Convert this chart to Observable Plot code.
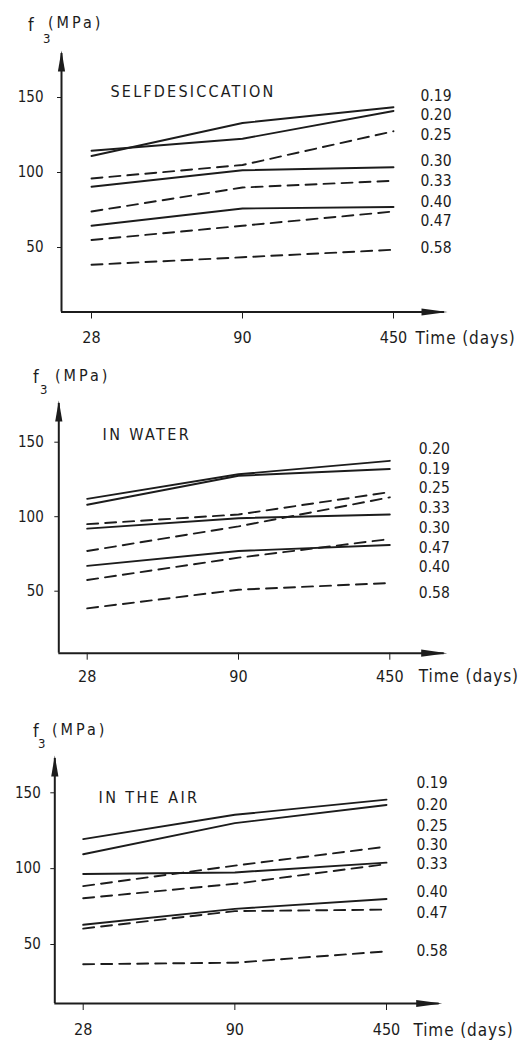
<!DOCTYPE html>
<html><head><meta charset="utf-8">
<script src="https://cdn.jsdelivr.net/npm/d3@7"></script>
<script src="https://cdn.jsdelivr.net/npm/@observablehq/plot@0.6"></script>
<style>
body{margin:0;background:#fff;width:521px;}
svg{display:block;}
#chart{font-family:"DejaVu Sans Condensed","DejaVu Sans",sans-serif;font-stretch:condensed;color:#1c1c1c;}
</style></head><body><div id="chart"></div>
<script>
// ---- data ----
const ages = ["28", "90", "450"];
const ratios = ["0.19", "0.20", "0.25", "0.30", "0.33", "0.40", "0.47", "0.58"];
const yTicks = [50, 100, 150];
const conditions = ["SELFDESICCATION", "IN WATER", "IN THE AIR"];

// f3 (MPa) at 28, 90, 450 days, rows in the order of `ratios`
const selfValues = [
  [111, 133, 143.5],
  [114.5, 122.5, 141],
  [96, 105, 127.5],
  [90.5, 101.5, 103.5],
  [74, 90, 94.5],
  [64.5, 76, 77],
  [55, 64.5, 74],
  [38.5, 43.5, 48.5]
];
const waterValues = [
  [108, 127.5, 132],
  [112, 128.5, 137.5],
  [95, 101.5, 116.5],
  [92, 99, 101.5],
  [77, 93.5, 113],
  [67, 77, 81],
  [57.5, 72.5, 85],
  [38.5, 51, 55.5]
];
const airValues = [
  [119.5, 135.5, 145.5],
  [109.5, 130, 142],
  [88.5, 102, 114.5],
  [96.5, 97.5, 104],
  [80.5, 90, 103],
  [63, 73.5, 80],
  [60.5, 72, 73],
  [37, 38, 45.5]
];
// label heights (MPa) at the right of each panel, order of `ratios`
const selfLabelY = [151, 138.5, 125, 107.5, 94, 80, 67.5, 49.5];
const waterLabelY = [132, 145.5, 119, 92.5, 106, 66, 79, 48.5];
const airLabelY = [156.5, 142, 128, 115.5, 103, 84.5, 71, 45.5];

// ---- style (not data) ----
const dashedSet = new Set(["0.25", "0.33", "0.47", "0.58"]);
const INK = "#1c1c1c";
const FONT = '"DejaVu Sans Condensed","DejaVu Sans",sans-serif';

const arrowUp = {draw(ctx) { ctx.moveTo(0, 0); ctx.lineTo(3.6, 21); ctx.lineTo(-3.6, 21); ctx.closePath(); }};
const arrowRight = {draw(ctx) { ctx.moveTo(0, 0); ctx.lineTo(-26, -3.6); ctx.lineTo(-26, 3.6); ctx.closePath(); }};

const panels = [
  {values: selfValues, labelY: selfLabelY, cond: conditions[0],
   g: {h: 347, axisX: 61, x28: 91, x450: 393, tipX: 447, y150: 97, y50: 247, axisY: 311.5, tipY: 50,
       yPad: 14, xPad: 13, labDx: 27, timeDx: 22,
       f: [28, 31], sub: [43, 43], mpa: [48, 28], condPos: [110, 85]}},
  {values: waterValues, labelY: waterLabelY, cond: conditions[1],
   g: {h: 343, axisX: 58.3, x28: 86.7, x450: 389.3, tipX: 446.7, y150: 94.7, y50: 243.7, axisY: 305.7, tipY: 53,
       yPad: 11, xPad: 10, labDx: 29, timeDx: 29,
       f: [33, 36], sub: [40, 47], mpa: [55, 34], condPos: [102, 81]}},
  {values: airValues, labelY: airLabelY, cond: conditions[2],
   g: {h: 352, axisX: 54.3, x28: 82.7, x450: 386, tipX: 441.7, y150: 102.3, y50: 254, axisY: 313, tipY: 65,
       yPad: 10, xPad: 13, labDx: 30, timeDx: 27,
       f: [33, 46.5], sub: [38, 58], mpa: [52, 45], condPos: [98, 101]}}
];

const W = 521;
const root = document.getElementById("chart");

for (const p of panels) {
  const g = p.g;
  const ppu = (g.x450 - g.x28) / 2;
  const x0 = -(g.x28 - g.axisX) / ppu;
  const x1 = (g.tipX - g.x28) / ppu;
  const ppv = (g.y50 - g.y150) / 100;
  const yMin = 50 - (g.axisY - g.y50) / ppv;
  const yTop = 150 + (g.y150 - g.tipY) / ppv;

  const rows = ratios.flatMap((r, i) => ages.map((a, j) => ({ratio: r, t: j, v: p.values[i][j]})));
  const labels = ratios.map((r, i) => ({ratio: r, t: 2, v: p.labelY[i]}));

  const svg = Plot.plot({
    width: W,
    height: g.h,
    marginLeft: g.axisX,
    marginRight: W - g.tipX,
    marginTop: g.tipY,
    marginBottom: g.h - g.axisY,
    style: {fontFamily: FONT, fontSize: "15px", color: INK, background: "#fff", overflow: "visible"},
    x: {domain: [x0, x1], ticks: [0, 1, 2], tickFormat: i => ages[i], tickSize: 7, tickPadding: g.xPad, label: null, line: false},
    y: {domain: [yMin, yTop], ticks: yTicks, tickSize: 4, tickPadding: g.yPad, label: null},
    marks: [
      // axes lines with filled arrow heads
      Plot.ruleX([{x: x0, y1: yMin, y2: yTop - 3 / ppv}], {x: "x", y1: "y1", y2: "y2", stroke: INK, strokeWidth: 2}),
      Plot.ruleY([{y: yMin, x1: x0, x2: x1 - 3 / ppu}], {y: "y", x1: "x1", x2: "x2", stroke: INK, strokeWidth: 2}),
      Plot.dot([{x: x0, y: yTop}], {x: "x", y: "y", symbol: arrowUp, fill: INK, stroke: null, r: 5}),
      Plot.dot([{x: x1, y: yMin}], {x: "x", y: "y", symbol: arrowRight, fill: INK, stroke: null, r: 5}),
      // series
      Plot.line(rows.filter(d => !dashedSet.has(d.ratio)), {x: "t", y: "v", z: "ratio", stroke: INK, strokeWidth: 1.9, curve: "linear"}),
      Plot.line(rows.filter(d => dashedSet.has(d.ratio)), {x: "t", y: "v", z: "ratio", stroke: INK, strokeWidth: 1.9, strokeDasharray: "11,7", curve: "linear"}),
      // series labels
      Plot.text(labels, {x: "t", y: "v", text: "ratio", dx: g.labDx, textAnchor: "start", fontSize: 15.5, fill: INK}),
      // x axis title
      Plot.text([{t: 2, v: yMin}], {x: "t", y: "v", text: () => "Time (days)", dx: g.timeDx, dy: 7 + g.xPad, lineAnchor: "top", textAnchor: "start", fontSize: 17, fill: INK}),
      // condition label
      Plot.text([p.cond], {frameAnchor: "top-left", dx: g.condPos[0] - g.axisX, dy: g.condPos[1] - g.tipY, textAnchor: "start", fontSize: 16, fill: INK})
    ]
  });

  const s = d3.select(svg);
  s.selectAll("g[aria-label='x-axis tick label']").attr("font-size", 16);
  s.selectAll("g[aria-label='text'] text").each(function () {
    const t = this.textContent;
    if (t === p.cond) d3.select(this).attr("letter-spacing", t === "SELFDESICCATION" ? 2.2 : 2.4);
    if (t === "Time (days)") d3.select(this).attr("letter-spacing", 0.9);
  });
  const title = s.append("g").attr("text-anchor", "start").attr("fill", INK);
  title.append("text").attr("x", g.f[0]).attr("y", g.f[1]).attr("font-size", 18).text("f");
  title.append("text").attr("x", g.sub[0]).attr("y", g.sub[1]).attr("font-size", 13).text("3");
  title.append("text").attr("x", g.mpa[0]).attr("y", g.mpa[1]).attr("font-size", 16).attr("letter-spacing", 3).text("(MPa)");
  root.appendChild(svg);
}
</script>
</body></html>
